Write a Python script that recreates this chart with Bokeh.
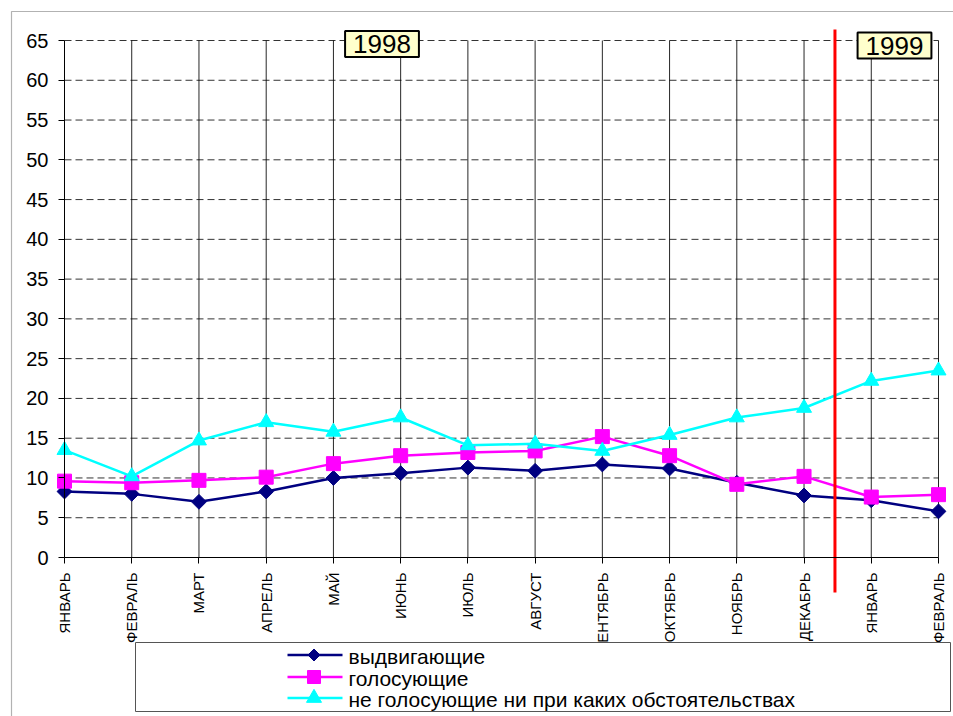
import math
from bokeh.plotting import figure
from bokeh.models import FixedTicker, Label, BoxAnnotation, ColumnDataSource
from bokeh.core.properties import value
from bokeh.embed import file_html
from bokeh.resources import INLINE

months = ["ЯНВАРЬ", "ФЕВРАЛЬ", "МАРТ", "АПРЕЛЬ", "МАЙ", "ИЮНЬ", "ИЮЛЬ",
          "АВГУСТ", "СЕНТЯБРЬ", "ОКТЯБРЬ", "НОЯБРЬ", "ДЕКАБРЬ", "ЯНВАРЬ", "ФЕВРАЛЬ"]
nominating = [8.3, 8.0, 7.0, 8.3, 10.0, 10.6, 11.3, 10.9, 11.7, 11.2, 9.4, 7.8, 7.2, 5.8]
voting = [9.6, 9.4, 9.7, 10.1, 11.8, 12.8, 13.2, 13.4, 15.2, 12.8, 9.2, 10.2, 7.6, 7.9]
never = [13.5, 10.2, 14.7, 17.0, 15.8, 17.6, 14.1, 14.3, 13.4, 15.4, 17.6, 18.8, 22.2, 23.5]
series_names = ["выдвигающие", "голосующие", "не голосующие ни при каких обстоятельствах"]
series_colors = ["#000080", "#FF00FF", "#00FFFF"]
y_ticks = list(range(0, 70, 5))
year_labels = ["1998", "1999"]
year_split = 11.46

FONT = "Liberation Sans"
W, H = 953, 716
# pixel geometry of the plotting area inside the canvas
PX_L, PX_R, PX_T, PX_B = 64.0, 938.0, 40.0, 557.0
n = len(months)
ux = (PX_R - PX_L) / (n - 1)
uy = (PX_B - PX_T) / 65.0


def dx(px):
    return (px - PX_L) / ux


def dy(py):
    return (PX_B - py) / uy


idx = list(range(n))
src = ColumnDataSource(dict(x=idx, a=nominating, b=voting, c=never))

p = figure(width=W, height=H, output_backend="svg", toolbar_location=None,
           x_range=(dx(0), dx(W)), y_range=(dy(H), dy(0)),
           min_border=0)
p.outline_line_color = None
p.background_fill_color = "white"
p.border_fill_color = "white"
p.grid.visible = False

# axes placed at fixed locations inside the (full-canvas) frame
p.xaxis.fixed_location = 0
p.xaxis.bounds = (0, n - 1)
p.xaxis.ticker = FixedTicker(ticks=idx)
p.xaxis.major_label_overrides = {i: m for i, m in enumerate(months)}
p.xaxis.major_label_orientation = math.pi / 2
p.xaxis.major_label_text_font = FONT
p.xaxis.major_label_text_font_size = "15px"
p.xaxis.major_label_text_color = "black"
p.xaxis.major_label_standoff = 9
p.xaxis.major_tick_out = 6
p.xaxis.major_tick_in = 0
p.xaxis.minor_tick_line_color = None
p.xaxis.axis_line_color = "black"
p.xaxis.major_tick_line_color = "black"

p.yaxis.fixed_location = 0
p.yaxis.bounds = (0, 65)
p.yaxis.ticker = FixedTicker(ticks=y_ticks)
p.yaxis.major_label_text_font = FONT
p.yaxis.major_label_text_font_size = "20px"
p.yaxis.major_label_text_color = "black"
p.yaxis.major_label_standoff = 10
p.yaxis.major_tick_out = 6
p.yaxis.major_tick_in = 0
p.yaxis.minor_tick_line_color = None
p.yaxis.axis_line_color = "black"
p.yaxis.major_tick_line_color = "black"

# grid lines
gy = y_ticks[1:]
p.segment(x0=[0] * len(gy), x1=[n - 1] * len(gy), y0=gy, y1=gy,
          line_color="black", line_alpha=0.8, line_width=1, line_dash="7 4")
gx = idx[1:]
p.segment(x0=gx, x1=gx, y0=[0] * len(gx), y1=[65] * len(gx),
          line_color="black", line_alpha=0.85, line_width=1)

# outer chart frame
p.add_layout(BoxAnnotation(left=dx(11), right=dx(W + 20), top=dy(11), bottom=dy(H + 20),
                           fill_alpha=0, line_color="black", line_width=1.2,
                           level="underlay"))

# series
p.line("x", "a", source=src, line_color=series_colors[0], line_width=2.5)
p.scatter("x", "a", source=src, marker="square", angle=math.pi / 4, size=10.5,
          fill_color=series_colors[0], line_color=series_colors[0])
p.line("x", "b", source=src, line_color=series_colors[1], line_width=2.5)
p.scatter("x", "b", source=src, marker="square", size=14,
          fill_color=series_colors[1], line_color=series_colors[1])
p.line("x", "c", source=src, line_color=series_colors[2], line_width=2.5)
p.scatter("x", "c", source=src, marker="triangle", size=15,
          fill_color=series_colors[2], line_color=series_colors[2])

# red separator between years
p.segment(x0=[year_split], x1=[year_split], y0=[dy(592)], y1=[dy(29)],
          line_color="#FF0000", line_width=3)

# year labels
for txt, xpx, ypx in [(year_labels[0], 381.5, 43.5), (year_labels[1], 894, 45)]:
    p.add_layout(Label(x=dx(xpx), y=dy(ypx), text=txt, text_align="center",
                       text_baseline="middle", text_font=FONT,
                       text_font_size="26px", text_color="black",
                       background_fill_color="#FFFFCC", background_fill_alpha=1,
                       border_line_color="black", border_line_width=2,
                       padding=dict(left=8, right=8, top=4, bottom=4)))

# legend box (drawn over the axis labels, as in the original)
p.add_layout(BoxAnnotation(left=dx(135), right=dx(950), top=dy(642), bottom=dy(711),
                           fill_color="white", fill_alpha=1,
                           line_color="#555555", line_width=1, line_alpha=1))

# legend entries
rows_px = [654.5, 676.5, 697.5]
leg_y = [dy(r) for r in rows_px]
p.segment(x0=[dx(287)] * 3, x1=[dx(342)] * 3, y0=leg_y, y1=leg_y,
          line_color=series_colors, line_width=2.5, level="overlay")
p.scatter(x=[dx(313.5)], y=[leg_y[0]], marker="square", angle=math.pi / 4, size=8.5,
          fill_color=series_colors[0], line_color=series_colors[0], level="overlay")
p.scatter(x=[dx(313.5)], y=[leg_y[1]], marker="square", size=13,
          fill_color=series_colors[1], line_color=series_colors[1], level="overlay")
p.scatter(x=[dx(313.5)], y=[leg_y[2]], marker="triangle", size=15,
          fill_color=series_colors[2], line_color=series_colors[2], level="overlay")
p.text(x=[dx(348)] * 3, y=[dy(r + 1.5) for r in rows_px], text=series_names,
       text_font=value(FONT), text_font_size="21px", text_color="black",
       text_baseline="middle", text_align="left", level="overlay")

open("out.html", "w").write(file_html(p, INLINE))
